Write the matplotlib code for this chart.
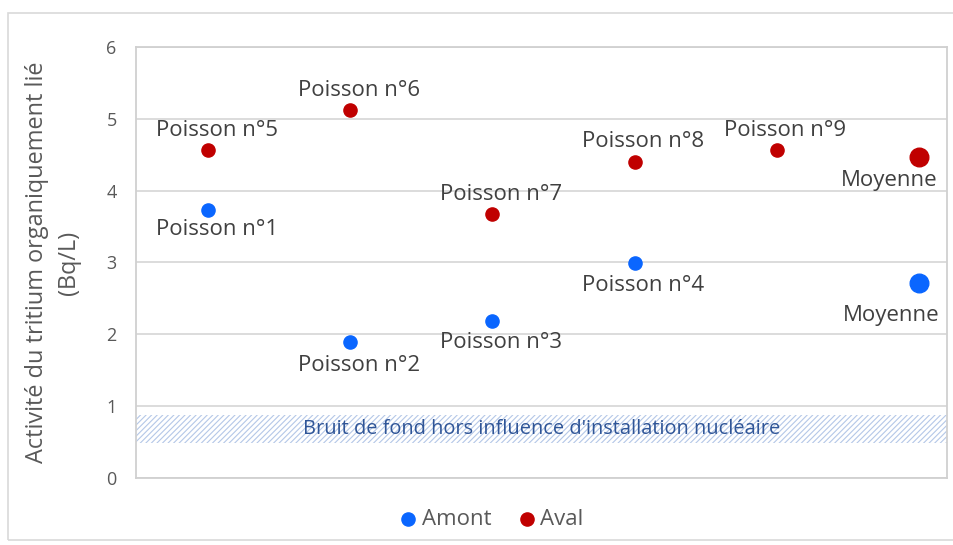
import matplotlib.pyplot as plt
from matplotlib.patches import Rectangle

plt.rcParams['font.family'] = ['Open Sans', 'DejaVu Sans']
plt.rcParams['hatch.linewidth'] = 0.8

# Amont
amont_x = [1, 2, 3, 4]
amont_y = [3.73, 1.89, 2.19, 2.99]
amont_labels = ['Poisson n°1', 'Poisson n°2', 'Poisson n°3', 'Poisson n°4']
amont_moy = 2.71

# Aval
aval_x = [1, 2, 3, 4, 5]
aval_y = [4.56, 5.12, 3.67, 4.40, 4.56]
aval_labels = ['Poisson n°5', 'Poisson n°6', 'Poisson n°7', 'Poisson n°8', 'Poisson n°9']
aval_moy = 4.47

moy_x = 6
bruit_bas, bruit_haut = 0.49, 0.88

bleu = '#0a66ff'
rouge = '#c00000'
gris = '#595959'

fig = plt.figure(figsize=(9.54, 5.45), dpi=100)
fig.patches.append(Rectangle((0.0084, 0.009), 1.1, 0.967, transform=fig.transFigure,
                             fill=False, edgecolor='#d9d9d9', lw=1.2))
ax = fig.add_axes([0.1426, 0.1229, 0.850, 0.791])

ax.fill_between([0.49, 6.2], bruit_bas, bruit_haut, facecolor='none',
                edgecolor='#b4c7e7', hatch='//////', lw=0)
ax.text(0.5, (bruit_bas + bruit_haut) / 2, "Bruit de fond hors influence d'installation nucléaire",
        transform=ax.get_yaxis_transform(), ha='center', va='center',
        color='#2f5597', fontsize=14.4)

ax.scatter(amont_x, amont_y, s=90, color=bleu, zorder=3, label='Amont')
ax.scatter(aval_x, aval_y, s=90, color=rouge, zorder=3, label='Aval')
ax.scatter([moy_x], [amont_moy], s=180, color=bleu, zorder=3)
ax.scatter([moy_x], [aval_moy], s=180, color=rouge, zorder=3)

# positions des etiquettes (decalage en pixels)
amont_off = [-19, -23, -22, -22]
aval_off = [20, 20, 20, 20, 20]
for x, y, t, o in zip(amont_x, amont_y, amont_labels, amont_off):
    ax.annotate(t, (x, y), xytext=(6, o * 0.72), textcoords='offset points',
                ha='center', va='center', fontsize=16, color='#404040')
for x, y, t, o in zip(aval_x, aval_y, aval_labels, aval_off):
    ax.annotate(t, (x, y), xytext=(6, o * 0.72), textcoords='offset points',
                ha='center', va='center', fontsize=16, color='#404040')
ax.annotate('Moyenne', (moy_x, aval_moy), xytext=(14, -17), textcoords='offset points',
            ha='right', va='center', fontsize=16, color='#404040')
ax.annotate('Moyenne', (moy_x, amont_moy), xytext=(15, -23.5), textcoords='offset points',
            ha='right', va='center', fontsize=16, color='#404040')

ax.set_xlim(0.49, 6.2)
ax.set_ylim(0, 6)
ax.set_yticks(range(7))
ax.set_xticks([])
ax.tick_params(axis='y', length=0, pad=14, labelsize=13, labelcolor=gris)
ax.grid(axis='y', color='#d9d9d9', lw=1.3)
ax.set_axisbelow(True)
for s in ax.spines.values():
    s.set_color('#d0d0d0')
    s.set_linewidth(1.3)

ax.set_ylabel('Activité du tritium organiquement lié\n(Bq/L)', fontsize=16.9,
              color=gris, labelpad=18, linespacing=1.45)

leg = ax.legend(loc='upper center', bbox_to_anchor=(0.43, -0.025), ncol=2, frameon=False,
                fontsize=16, handletextpad=-0.4, columnspacing=0.6, markerscale=1.0)
for t in leg.get_texts():
    t.set_color(gris)

plt.savefig('out.png', dpi=100)
